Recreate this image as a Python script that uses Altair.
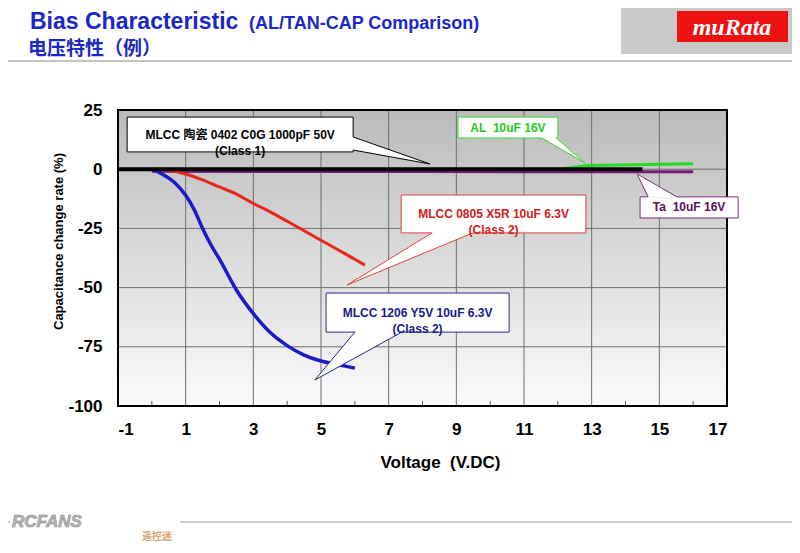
import altair as alt
import pandas as pd

# ---------------- data ----------------
volt_c0g = [-1, 14.5]
cap_c0g = [0, 0]

volt_al = [0, 12.0, 12.9, 16]
cap_al = [0, 0, 1.6, 2.3]

volt_ta = [0, 8, 16]
cap_ta = [-0.9, -1.0, -1.1]

volt_x5r = [0, 0.5, 1.0, 1.5, 2.0, 2.5, 3.0, 3.5, 4.0, 4.5, 5.0, 5.5, 6.0, 6.3]
cap_x5r = [0, -0.5, -2, -4.5, -7.5, -10.5, -14.5, -18, -22, -26, -30, -34, -38, -40.5]

volt_y5v = [0, 0.3, 0.7, 1.0, 1.25, 1.5, 1.75, 2.0, 2.5, 3.0, 3.5, 4.0, 4.5, 5.0, 5.5, 6.0]
cap_y5v = [0, -2, -6, -11, -17, -25, -32, -38, -51, -61, -69, -74.5, -78.5, -81, -82.5, -84]

x_ticks = [-1, 1, 3, 5, 7, 9, 11, 13, 15, 17]
x_minor = [0, 2, 4, 6, 8, 10, 12, 14, 16]
y_ticks = [-100, -75, -50, -25, 0, 25]

series_names = ["AL 10uF 16V", "Ta 10uF 16V", "MLCC 0805 X5R", "MLCC 1206 Y5V", "MLCC 0402 C0G"]
series_volts = [volt_al, volt_ta, volt_x5r, volt_y5v, volt_c0g]
series_caps = [cap_al, cap_ta, cap_x5r, cap_y5v, cap_c0g]
series_colors = ["#22dd22", "#7a1a7a", "#e8251f", "#1a1ac8", "#000000"]
series_widths = [3, 3, 3, 3.5, 4]
series_interp = ["linear", "linear", "monotone", "monotone", "linear"]

# callout labels (box in data units, pointer base points and tip)
ann_text = ["MLCC 陶瓷 0402 C0G 1000pF 50V\n(Class 1)", "AL\u00a0 10uF 16V", "Ta\u00a0 10uF 16V",
            "MLCC 0805 X5R 10uF 6.3V\n(Class 2)", "MLCC 1206 Y5V 10uF 6.3V\n(Class 2)"]
ann_x1 = [-0.73, 9.05, 14.43, 7.37, 5.15]
ann_x2 = [5.95, 12.0, 17.33, 12.83, 10.56]
ann_y1 = [22.0, 22.0, -11.7, -10.9, -52.3]
ann_y2 = [7.3, 13.2, -20.6, -26.9, -68.8]
ann_base_a = [(5.95, 13.6), (11.53, 13.2), (14.67, -11.7), (8.28, -26.9), (6.0, -68.8)]
ann_base_b = [(5.95, 8.1), (11.95, 13.2), (15.52, -11.7), (9.49, -26.9), (7.39, -68.8)]
ann_tip = [(8.22, 2.2), (12.8, 2.6), (14.34, -2.0), (5.77, -48.9), (4.82, -89.0)]
ann_text_color = ["#000000", "#22cc22", "#5a105a", "#d42020", "#1a1a8a"]
ann_stroke_color = ["#000000", "#33dd33", "#7a307a", "#e04040", "#2a2a90"]

FONT = "Liberation Sans, Noto Sans CJK SC, Arial"
W, H = 609, 296

xs = alt.Scale(domain=[-1, 17], nice=False, zero=False)
ys = alt.Scale(domain=[-100, 25], nice=False, zero=False)
one = pd.DataFrame({"a": [0]})

# ---------------- layers ----------------
bg = alt.Chart(one).mark_rect(
    fill=alt.Gradient(gradient="linear", x1=0, x2=0, y1=0, y2=1,
                      stops=[alt.GradientStop(color="#bbbbbb", offset=0),
                             alt.GradientStop(color="#fbfbfb", offset=1)])
).encode(x=alt.value(0), x2=alt.value(W), y=alt.value(0), y2=alt.value(H))

vgrid = alt.Chart(pd.DataFrame({"v": x_ticks})).mark_rule(color="#6e6e6e", strokeWidth=1).encode(
    x=alt.X("v:Q", scale=xs), y=alt.value(0), y2=alt.value(H))
hgrid = alt.Chart(pd.DataFrame({"c": y_ticks})).mark_rule(color="#6e6e6e", strokeWidth=1).encode(
    y=alt.Y("c:Q", scale=ys), x=alt.value(0), x2=alt.value(W))
minor = alt.Chart(pd.DataFrame({"v": x_minor})).mark_rule(color="#555555", strokeWidth=1).encode(
    x=alt.X("v:Q", scale=xs), y=alt.value(H - 5), y2=alt.value(H))

line_layers = []
for name, vv, cc, col, sw, ip in zip(series_names, series_volts, series_caps, series_colors,
                                     series_widths, series_interp):
    df = pd.DataFrame({"V": vv, "C": cc, "i": list(range(len(vv))), "s": name})
    line_layers.append(
        alt.Chart(df).mark_line(color=col, strokeWidth=sw, interpolate=ip).encode(
            x=alt.X("V:Q", scale=xs, axis=alt.Axis(
                values=x_ticks, title="Voltage\u00a0 (V.DC)", grid=False, ticks=False, domain=False,
                labelExpr="'' + datum.value",
                labelFont=FONT, labelFontWeight="bold", labelFontSize=17, labelColor="black",
                labelPadding=15, titleFont=FONT, titleFontWeight="bold", titleFontSize=17,
                titleColor="black", titleX=322, titleY=56, titleAlign="center", titleBaseline="middle")),
            y=alt.Y("C:Q", scale=ys, axis=alt.Axis(
                values=y_ticks, title="Capacitance change rate (%)", grid=False, ticks=False, domain=False,
                labelExpr="'' + datum.value",
                labelFont=FONT, labelFontWeight="bold", labelFontSize=17, labelColor="black",
                labelPadding=16, titleFont=FONT, titleFontWeight="bold", titleFontSize=13,
                titleColor="black", titleX=-60, titleY=131, titleAlign="center", titleBaseline="middle",
                titleAngle=270)),
            order=alt.Order("i:Q"),
        )
    )

frame = alt.Chart(one).mark_rect(fillOpacity=0, stroke="black", strokeWidth=2).encode(
    x=alt.value(0), x2=alt.value(W), y=alt.value(0), y2=alt.value(H))

# callouts
ann_df = pd.DataFrame({
    "id": list(range(len(ann_text))), "t": ann_text,
    "x1": ann_x1, "x2": ann_x2, "y1": ann_y1, "y2": ann_y2,
    "tc": ann_text_color, "sc": ann_stroke_color,
})
ann_df["xm"] = (ann_df.x1 + ann_df.x2) / 2
ann_df["ym"] = (ann_df.y1 + ann_df.y2) / 2

boxes = alt.Chart(ann_df).mark_rect(fill="white", strokeWidth=1).encode(
    x=alt.X("x1:Q", scale=xs), x2="x2:Q", y=alt.Y("y1:Q", scale=ys), y2="y2:Q",
    stroke=alt.Stroke("sc:N", scale=None))


def tri_span(pts):
    xs_ = sorted(set(round(p[0], 6) for p in pts))
    edges = [(pts[0], pts[1]), (pts[1], pts[2]), (pts[2], pts[0])]
    rows = []
    for x in xs_:
        yv = []
        for a, b in edges:
            x0, y0 = a
            x1, y1 = b
            if abs(x1 - x0) < 1e-9:
                if abs(x - x0) < 1e-6:
                    yv += [y0, y1]
            elif min(x0, x1) - 1e-6 <= x <= max(x0, x1) + 1e-6:
                yv.append(y0 + (y1 - y0) * (x - x0) / (x1 - x0))
        rows.append((x, min(yv), max(yv)))
    return rows


fill_rows, out_rows = [], []
for k, (ba, bb, tp) in enumerate(zip(ann_base_a, ann_base_b, ann_tip)):
    fa = (ba[0] + (ba[0] - tp[0]) * 0.035, ba[1] + (ba[1] - tp[1]) * 0.035)
    fb = (bb[0] + (bb[0] - tp[0]) * 0.035, bb[1] + (bb[1] - tp[1]) * 0.035)
    for x, lo, hi in tri_span([fa, fb, tp]):
        fill_rows.append({"id": k, "px": x, "lo": lo, "hi": hi})
    for o, p in enumerate([ba, tp, bb]):
        out_rows.append({"id": k, "o": o, "ox": p[0], "oy": p[1], "sc": ann_stroke_color[k]})

ptr_fill = alt.Chart(pd.DataFrame(fill_rows)).mark_area(fill="white", opacity=1).encode(
    x=alt.X("px:Q", scale=xs), y=alt.Y("lo:Q", scale=ys), y2="hi:Q", detail="id:N")
ptr_line = alt.Chart(pd.DataFrame(out_rows)).mark_line(strokeWidth=1).encode(
    x=alt.X("ox:Q", scale=xs), y=alt.Y("oy:Q", scale=ys), detail="id:N",
    order=alt.Order("o:Q"), color=alt.Color("sc:N", scale=None))

ann_txt = alt.Chart(ann_df).mark_text(
    font=FONT, fontWeight="bold", fontSize=12, lineBreak="\n", lineHeight=16,
    align="center", baseline="middle").encode(
    x=alt.X("xm:Q", scale=xs), y=alt.Y("ym:Q", scale=ys), text="t:N",
    color=alt.Color("tc:N", scale=None))

# ---------------- page decoration (pixel positions relative to plot origin) ----------------
OX, OY = 118, 110  # page position of plot origin

hdr_gray = alt.Chart(one).mark_rect(fill="#c9c9c9").encode(
    x=alt.value(621 - OX), x2=alt.value(800 - OX), y=alt.value(0 - OY), y2=alt.value(54 - OY))
hdr_red = alt.Chart(one).mark_rect(fill="#ee1111").encode(
    x=alt.value(677 - OX), x2=alt.value(788 - OX), y=alt.value(11 - OY), y2=alt.value(42 - OY))
hdr_logo = alt.Chart(one).mark_text(
    text="muRata", font="Liberation Serif", fontStyle="italic", fontWeight="bold", fontSize=24,
    color="white", align="center", baseline="alphabetic").encode(
    x=alt.value(732 - OX), y=alt.value(35 - OY))
hdr_line = alt.Chart(one).mark_rule(color="#c4c4c4", strokeWidth=2).encode(
    x=alt.value(0 - OX), x2=alt.value(800 - OX), y=alt.value(61 - OY))
title1 = alt.Chart(one).mark_text(
    text="Bias Characteristic", font="Liberation Sans", fontWeight="bold",
    fontSize=23, color="#1a28c8", align="left", baseline="alphabetic").encode(
    x=alt.value(30 - OX), y=alt.value(29 - OY))
title2 = alt.Chart(one).mark_text(
    text="(AL/TAN-CAP Comparison)", font="Liberation Sans", fontWeight="bold",
    fontSize=18, color="#1a28c8", align="left", baseline="alphabetic").encode(
    x=alt.value(249 - OX), y=alt.value(29 - OY))
title3 = alt.Chart(one).mark_text(
    text="电压特性（例）", font="Noto Sans CJK SC", fontWeight="bold",
    fontSize=19, color="#1a28c8", align="left", baseline="alphabetic").encode(
    x=alt.value(28 - OX), y=alt.value(55 - OY))
foot_line = alt.Chart(one).mark_rule(color="#cccccc", strokeWidth=2).encode(
    x=alt.value(180 - OX), x2=alt.value(800 - OX), y=alt.value(522 - OY))
foot_line2 = alt.Chart(one).mark_rule(color="#cccccc", strokeWidth=2).encode(
    x=alt.value(0 - OX), x2=alt.value(10 - OX), y=alt.value(522 - OY))
foot_logo = alt.Chart(one).mark_text(
    text="RCFANS", font="Liberation Sans", fontWeight="bold", fontStyle="italic", fontSize=17,
    color="#b8b8b8", stroke="#8a8a8a", strokeWidth=0.6, align="left", baseline="alphabetic").encode(
    x=alt.value(12 - OX), y=alt.value(527 - OY))
foot_cn = alt.Chart(one).mark_text(
    text="遥控迷", font="Noto Sans CJK SC", fontWeight="bold", fontSize=10,
    color="#d9a070", align="left", baseline="alphabetic").encode(
    x=alt.value(142 - OX), y=alt.value(540 - OY))

chart = alt.layer(
    bg, vgrid, hgrid, minor, *line_layers, frame,
    boxes, ptr_fill, ptr_line, ann_txt,
    hdr_gray, hdr_red, hdr_logo, hdr_line, title1, title2, title3,
    foot_line, foot_line2, foot_logo, foot_cn,
).properties(
    width=W, height=H,
    autosize=alt.AutoSizeParams(type="none"),
    padding={"left": 110, "top": 102, "right": 65, "bottom": 139},
    background="white",
).configure_view(stroke=None)

chart.save("out.html", embed_options={"renderer": "svg", "actions": False})
